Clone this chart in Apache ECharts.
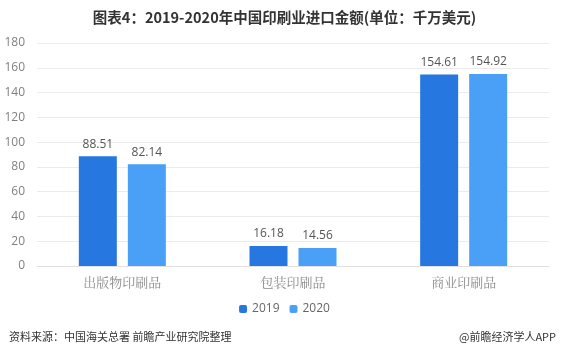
<!DOCTYPE html>
<html><head><meta charset="utf-8">
<script src="https://cdn.jsdelivr.net/npm/echarts@6/dist/echarts.min.js"></script>
<style>html,body{margin:0;padding:0;background:#fff}#c{width:569px;height:354px}</style>
</head><body><div id="c"></div>
<script>
const categories = ['出版物印刷品', '包装印刷品', '商业印刷品'];
const values2019 = [88.51, 16.18, 154.61];
const values2020 = [82.14, 14.56, 154.92];
const yTicks = [0, 20, 40, 60, 80, 100, 120, 140, 160, 180];

const chart = echarts.init(document.getElementById('c'));
const labelStyle = {show: true, position: 'top', color: '#555', fontSize: 12, fontFamily: 'Open Sans, sans-serif', distance: 6};
chart.setOption({
  animation: false,
  title: {
    text: '图表4：2019-2020年中国印刷业进口金额(单位：千万美元)',
    left: 'center', top: 5,
    textStyle: {fontSize: 14.5, fontWeight: 'bold', color: '#333', fontFamily: 'Noto Sans CJK SC'}
  },
  grid: {left: 37, right: 20, top: 43, bottom: 88, containLabel: false},
  legend: {
    bottom: 34, left: 'center', itemWidth: 8, itemHeight: 8, itemGap: 10,
    textStyle: {color: '#666', fontSize: 12, fontFamily: 'Open Sans, sans-serif'},
    data: ['2019', '2020']
  },
  xAxis: {
    type: 'category', data: categories,
    axisLine: {lineStyle: {color: '#e0e0e0'}}, axisTick: {show: false},
    axisLabel: {color: '#8a8a8a', fontSize: 13, margin: 10, fontFamily: 'Noto Serif CJK SC, serif'}
  },
  yAxis: {
    type: 'value', min: yTicks[0], max: yTicks[yTicks.length-1], interval: 20,
    axisLine: {show: false}, axisTick: {show: false},
    axisLabel: {color: '#808080', fontSize: 12, margin: 12, fontFamily: 'Open Sans, sans-serif'},
    splitLine: {lineStyle: {color: '#ebebeb'}}
  },
  series: [
    {name: '2019', type: 'bar', data: values2019, barWidth: 38, barGap: '29%',
     itemStyle: {color: '#2677E0'}, label: labelStyle},
    {name: '2020', type: 'bar', data: values2020, barWidth: 38,
     itemStyle: {color: '#4AA0F7'}, label: labelStyle}
  ],
  graphic: [
    {type: 'text', left: 9, top: 331, style: {text: '资料来源：中国海关总署 前瞻产业研究院整理', fill: '#333', fontSize: 11, fontFamily: 'Noto Sans CJK SC'}},
    {type: 'text', right: 13, top: 331, style: {text: '@前瞻经济学人APP', fill: '#333', fontSize: 11, fontFamily: 'Noto Sans CJK SC'}}
  ]
});
</script></body></html>
